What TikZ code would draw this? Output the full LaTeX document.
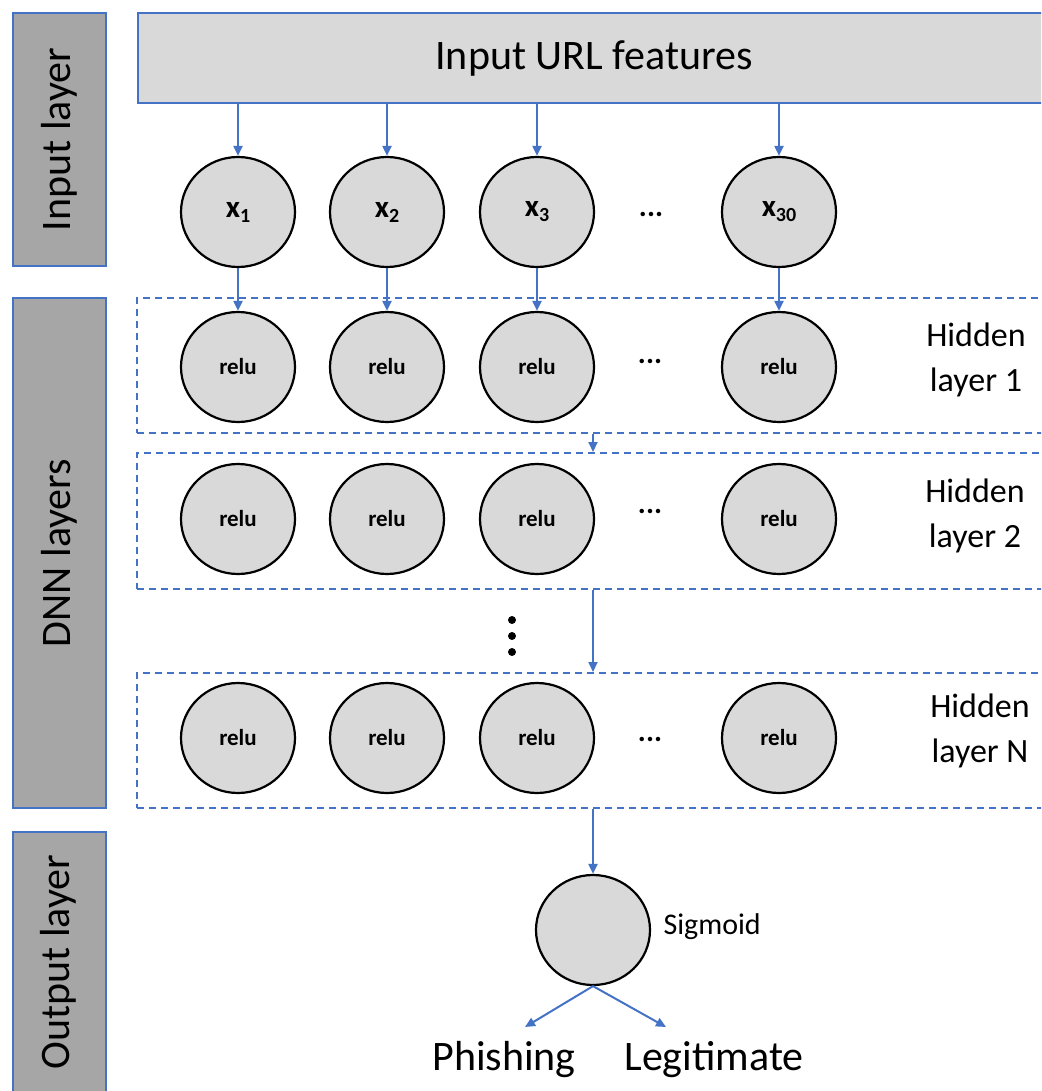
\documentclass[tikz,border=0pt]{standalone}
\usepackage{fontspec}
\setmainfont{Carlito}
\usetikzlibrary{shapes.geometric,arrows.meta}
\definecolor{linkblue}{HTML}{4472C4}
\definecolor{sidegray}{HTML}{A6A6A6}
\definecolor{cellgray}{HTML}{D9D9D9}
\newcommand{\xsub}[1]{\textbf{x}\raisebox{-5pt}{\fontsize{20}{20}\selectfont\bfseries #1}}

\begin{document}
\begin{tikzpicture}[x=1pt,y=-1pt,
  side/.style={draw=linkblue, line width=2.2pt, fill=sidegray, inner sep=0pt,
    font=\fontsize{42}{50}\selectfont},
  neuron/.style={ellipse, draw=black, line width=2.2pt, fill=cellgray,
    minimum width=114pt, minimum height=110pt, inner sep=0pt},
  relu/.style={neuron, font=\fontsize{23}{26}\selectfont\bfseries},
  layerbox/.style={draw=linkblue, line width=2pt, dash pattern=on 7pt off 5pt,
    inner sep=0pt},
  flow/.style={draw=linkblue, line width=2pt, -{Triangle[length=10pt,width=9pt]}},
  ellip/.style={font=\fontsize{30}{32}\selectfont\bfseries},
  hlabel/.style={align=center, font=\fontsize{34}{45}\selectfont},
  bigtext/.style={font=\fontsize{42}{50}\selectfont},
]
\clip (0,0) rectangle (1041,1091);

% side panels
\node[side, rotate=90, minimum width=253pt, minimum height=93pt] (pin) at (59.5,139.5) {Input layer};
\node[side, rotate=90, minimum width=510pt, minimum height=93pt] (pdnn) at (59.5,553) {DNN layers};
\node[side, rotate=90, minimum width=278pt, minimum height=93pt] (pout) at (59.5,971) {};
\node[font=\fontsize{42}{50}\selectfont, rotate=90] (poutlab) at (58,962) {Output layer};

% input feature bar
\node[draw=linkblue, line width=2.2pt, fill=cellgray, minimum width=912pt, minimum height=90pt,
  bigtext] (feat) at (594,58) {Input URL features};

% dashed layer frames
\node[layerbox, minimum width=923pt, minimum height=135pt] (h1box) at (598.5,365.5) {};
\node[layerbox, minimum width=923pt, minimum height=136pt] (h2box) at (598.5,521) {};
\node[layerbox, minimum width=923pt, minimum height=135pt] (hNbox) at (598.5,740.5) {};

% input neurons
\foreach \n/\x/\s in {a/238/1, b/387/2, c/537/3, d/779/30}{
  \node[neuron, font=\fontsize{31}{34}\selectfont] (x\n) at (\x,212) {\xsub{\s}};
  \draw[flow] (feat.south -| x\n.north) -- (x\n.north);
}
\node[ellip] (xdots) at (651,214) {...};

% hidden layers
\foreach \row/\y in {1/367, 2/519, N/738}{
  \foreach \n/\x in {a/238, b/387, c/537, d/779}{
    \node[relu] (h\row\n) at (\x,\y) {relu};
  }
}
\node[ellip] (h1dots) at (650,361) {...};
\node[ellip] (h2dots) at (650,511) {...};
\node[ellip] (hNdots) at (650,739) {...};

\node[hlabel] (h1lab) at (976,360) {Hidden\\layer 1};
\node[hlabel] (h2lab) at (975,516) {Hidden\\layer 2};
\node[hlabel] (hNlab) at (980,731) {Hidden\\layer N};

\foreach \n in {a,b,c,d}{
  \draw[flow] (x\n.south) -- (h1\n.north);
}

% links between layer frames
\coordinate (link) at (593,0);
\draw[flow] (h1box.south -| link) -- (h2box.north -| link);
\draw[flow] (h2box.south -| link) -- (hNbox.north -| link);

% vertical ellipsis between hidden layers
\foreach \y in {620,636,652}{
  \fill (512,\y) circle (4pt);
}

% output neuron
\node[neuron] (sig) at (593,930) {};
\node[anchor=west, font=\fontsize{30}{33}\selectfont] (siglab) at (660,927) {Sigmoid};
\draw[flow] (hNbox.south -| sig.north) -- (sig.north);

\coordinate (phend) at (525,1027);
\coordinate (leend) at (666,1027);
\draw[flow] (sig.south) -- (phend);
\draw[flow] (sig.south) -- (leend);
\node[bigtext] (phish) at (504,1060) {Phishing};
\node[bigtext] (legit) at (714,1060) {Legitimate};
\end{tikzpicture}
\end{document}
